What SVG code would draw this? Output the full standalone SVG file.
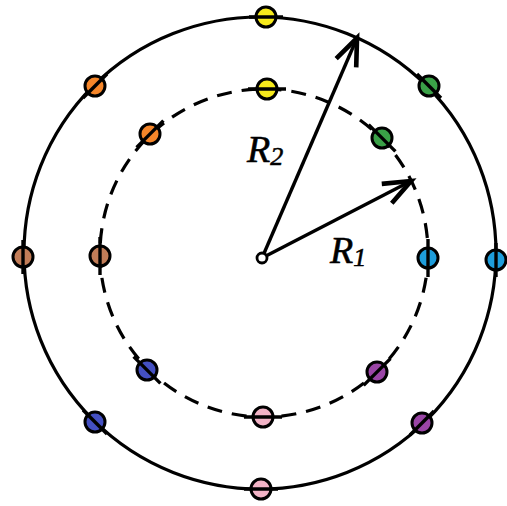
<svg xmlns="http://www.w3.org/2000/svg" width="507" height="506" viewBox="0 0 507 506">
<style>
.orbit{fill:none;stroke:#000;stroke-width:3.2}
.dash{stroke-dasharray:15 10}
.arrow{stroke:#000;stroke-width:3.4;fill:none}
.lbl{font-family:"Liberation Serif",serif;font-style:italic;fill:#000;stroke:#000;stroke-width:0.6}
</style>
<defs>
<marker id="head" markerUnits="userSpaceOnUse" markerWidth="30" markerHeight="30" refX="0" refY="0" viewBox="-20 -10 22 20" orient="auto" overflow="visible">
<path d="M-20,-8 L0,0 L-20,8" fill="none" stroke="#000" stroke-width="3.4" stroke-linejoin="miter"/>
</marker>
</defs>
<g id="orbits">
<circle id="outer-orbit" class="orbit" cx="260" cy="253" r="236"/>
<circle id="inner-orbit" class="orbit dash" cx="264" cy="253" r="164"/>
</g>
<g id="connectors">
<line class="arrow" x1="262" y1="258" x2="357" y2="38" marker-end="url(#head)"/>
<line class="arrow" x1="262" y1="258" x2="411" y2="181" marker-end="url(#head)"/>
</g>
<g id="center"><circle cx="262" cy="258" r="5" fill="#fff" stroke="#000" stroke-width="2.8"/></g>
<g id="outer-dots" stroke="#000">
<g id="o-top"><circle cx="266" cy="17" r="10" fill="#f7ea1c" stroke-width="3"/><line x1="249" y1="17" x2="283" y2="17" stroke-width="3.4"/></g>
<g id="o-ur"><circle cx="429" cy="86" r="10" fill="#3aa147" stroke-width="3"/><line x1="417" y1="74" x2="441" y2="98" stroke-width="3.4"/></g>
<g id="o-right"><circle cx="496" cy="260" r="10" fill="#1e9ddb" stroke-width="3"/><line x1="496" y1="243" x2="496" y2="277" stroke-width="3.4"/></g>
<g id="o-lr"><circle cx="422" cy="423" r="10" fill="#9a45a6" stroke-width="3"/><line x1="410" y1="435" x2="434" y2="411" stroke-width="3.4"/></g>
<g id="o-bottom"><circle cx="261" cy="489" r="10" fill="#f2b3c6" stroke-width="3"/><line x1="244" y1="489" x2="278" y2="489" stroke-width="3.4"/></g>
<g id="o-ll"><circle cx="95" cy="422" r="10" fill="#4450c2" stroke-width="3"/><line x1="83" y1="410" x2="107" y2="434" stroke-width="3.4"/></g>
<g id="o-left"><circle cx="23" cy="257" r="10" fill="#c27d58" stroke-width="3"/><line x1="23" y1="240" x2="23" y2="274" stroke-width="3.4"/></g>
<g id="o-ul"><circle cx="95" cy="86" r="10" fill="#f5862a" stroke-width="3"/><line x1="83" y1="98" x2="107" y2="74" stroke-width="3.4"/></g>
</g>
<g id="inner-dots" stroke="#000">
<g id="i-top"><circle cx="267" cy="89" r="10" fill="#f7ea1c" stroke-width="3"/><line x1="248" y1="89" x2="286" y2="89" stroke-width="3.4"/></g>
<g id="i-ur"><circle cx="382" cy="138" r="10" fill="#3aa147" stroke-width="3"/><line x1="368.6" y1="124.6" x2="395.4" y2="151.4" stroke-width="3.4"/></g>
<g id="i-right"><circle cx="428" cy="258" r="10" fill="#1e9ddb" stroke-width="3"/><line x1="428" y1="239" x2="428" y2="277" stroke-width="3.4"/></g>
<g id="i-lr"><circle cx="377" cy="372" r="10" fill="#9a45a6" stroke-width="3"/><line x1="363.6" y1="385.4" x2="390.4" y2="358.6" stroke-width="3.4"/></g>
<g id="i-bottom"><circle cx="263" cy="417" r="10" fill="#f2b3c6" stroke-width="3"/><line x1="244" y1="417" x2="282" y2="417" stroke-width="3.4"/></g>
<g id="i-ll"><circle cx="147" cy="370" r="10" fill="#4450c2" stroke-width="3"/><line x1="133.6" y1="356.6" x2="160.4" y2="383.4" stroke-width="3.4"/></g>
<g id="i-left"><circle cx="100" cy="256" r="10" fill="#c27d58" stroke-width="3"/><line x1="100" y1="237" x2="100" y2="275" stroke-width="3.4"/></g>
<g id="i-ul"><circle cx="150" cy="134" r="10" fill="#f5862a" stroke-width="3"/><line x1="136.6" y1="147.4" x2="163.4" y2="120.6" stroke-width="3.4"/></g>
</g>
<g id="labels">
<text class="lbl" x="247" y="162" font-size="38">R<tspan font-size="26" dy="3">2</tspan></text>
<text class="lbl" x="330" y="263" font-size="38">R<tspan font-size="26" dy="3">1</tspan></text>
</g>
</svg>
